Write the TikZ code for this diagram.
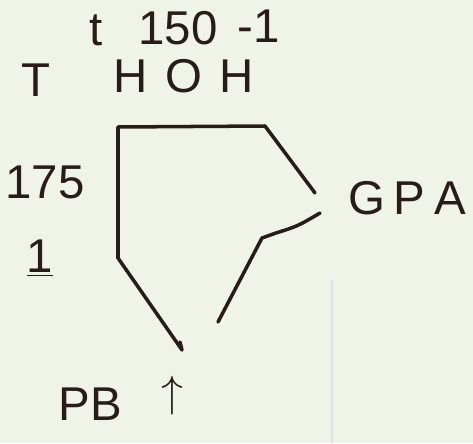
\documentclass[tikz,border=0pt]{standalone}
\usepackage{fontspec}
\setmainfont{Liberation Sans}
\definecolor{paper}{RGB}{240,244,232}
\definecolor{pen}{RGB}{40,28,24}
\tikzset{
  hand/.style={text=pen,font=\fontsize{27}{30}\selectfont,inner sep=0pt},
  stroke/.style={pen,line width=2pt,line cap=round,line join=round}
}
\begin{document}
\begin{tikzpicture}[x=0.02cm,y=-0.02cm]
        \fill [paper] (0,0) rectangle (473,443);
        \useasboundingbox (0,0) rectangle (473,443);
        \draw [black!12,line width=0.6pt] (332,280) -- (332,443);
        \draw [stroke] (315,193) -- (265,126) -- (118,127) -- (118,258) -- (182,350) -- (180,342);
        \draw [stroke] (218,322) -- (262,238) -- (276,233) .. controls (298,226) .. (320,213);
        \path (96,30) node [hand] (tsmall) {t};
        \path (178,28) node [hand] (oneFifty) {150};
        \path (259,26) node [hand] (minusOne) {-1};
        \path (36,80) node [hand] (tbig) {T};
        \path (184,76) node [hand] (hoh) {H\hspace{10pt}O\hspace{10pt}H};
        \path (45,182) node [hand] (oneSevenFive) {175};
        \path (40,258) node [hand] (underOne) {\underline{1}};
        \path (407,198) node [hand] (gpa) {G\hspace{5pt}P\hspace{5pt}A};
        \path (90,404) node [hand] (pb) {PB};
        \path (172,396) node [hand,font=\fontsize{34}{36}\selectfont] (uparr) {$\uparrow$};
    \end{tikzpicture}
\end{document}
